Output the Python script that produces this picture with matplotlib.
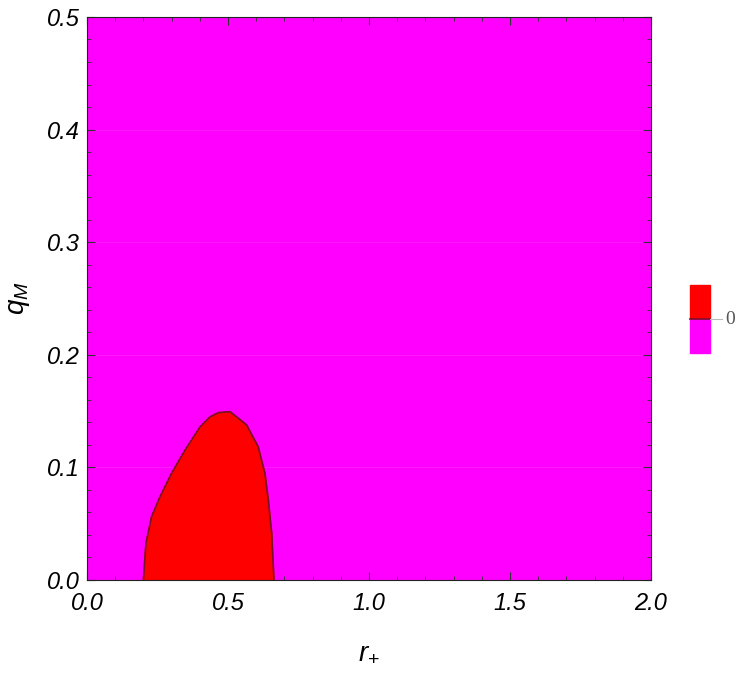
import matplotlib
matplotlib.use("Agg")
import matplotlib.pyplot as plt
from matplotlib.patches import Rectangle
from matplotlib.ticker import MultipleLocator

# boundary of the region where the function is > 0 (red)
r_boundary = [0.200, 0.209, 0.229, 0.259, 0.300, 0.348, 0.401, 0.436, 0.466,
              0.507, 0.537, 0.566, 0.607, 0.631, 0.643, 0.655, 0.663]
q_boundary = [0.0, 0.0326, 0.0562, 0.074, 0.0948, 0.1155, 0.136, 0.1448, 0.1486,
              0.1495, 0.1436, 0.1377, 0.1184, 0.0948, 0.071, 0.0415, 0.0]

x_ticks = [0.0, 0.5, 1.0, 1.5, 2.0]
y_ticks = [0.0, 0.1, 0.2, 0.3, 0.4, 0.5]
legend_label = "0"

plt.rcParams['font.family'] = ['Liberation Sans', 'DejaVu Sans']
plt.rcParams['mathtext.fontset'] = 'custom'
plt.rcParams['mathtext.it'] = 'Liberation Sans:italic'
plt.rcParams['mathtext.rm'] = 'Liberation Sans'

fig = plt.figure(figsize=(7.5, 6.73), dpi=100)
ax = fig.add_axes([0.116, 0.1382, 0.752, 0.8366])
ax.set_xlim(0, 2)
ax.set_ylim(0, 0.5)
ax.set_facecolor('#ff00ff')

# faint mesh lines (Mathematica artifact look)
for yv in [0.1, 0.2, 0.3, 0.4]:
    ax.axhline(yv, color='white', alpha=0.12, lw=0.6, zorder=1)

ax.fill(r_boundary, q_boundary, color='#ff0000', zorder=2)
ax.plot(r_boundary, q_boundary, color='#7a0f2a', lw=1.2, zorder=3)

ax.set_xticks(x_ticks)
ax.set_yticks(y_ticks)
ax.set_xticklabels([f"{v:.1f}" for v in x_ticks], fontsize=17, style='italic')
ax.set_yticklabels([f"{v:.1f}" for v in y_ticks], fontsize=17, style='italic')
ax.xaxis.set_minor_locator(MultipleLocator(0.1))
ax.yaxis.set_minor_locator(MultipleLocator(0.02))
ax.tick_params(which='both', direction='in', top=True, right=True, color='#333333')
ax.tick_params(axis='x', which='major', length=6, width=0.8, pad=9)
ax.tick_params(axis='y', which='major', length=6, width=0.8, pad=5)
ax.tick_params(which='minor', length=3, width=0.6)
for s in ax.spines.values():
    s.set_color('#222222')
    s.set_linewidth(0.8)

ax.set_xlabel(r"$r_{+}$", fontsize=20)
ax.set_ylabel(r"$q_{M}$", fontsize=20)
ax.xaxis.set_label_coords(0.5, -0.105)
ax.yaxis.set_label_coords(-0.098, 0.5)

# legend
lax = fig.add_axes([0, 0, 1, 1], facecolor='none')
lax.set_xlim(0, 750)
lax.set_ylim(673, 0)
lax.axis('off')
lax.add_patch(Rectangle((690, 285), 20, 34, color='#ff0000'))
lax.add_patch(Rectangle((690, 319), 20, 34, color='#ff00ff'))
lax.plot([690, 710], [319, 319], color='#7a0f2a', lw=1.2)
lax.plot([710, 722], [319, 319], color='#bbbbbb', lw=0.8)
lax.text(725, 319, legend_label, fontsize=14, color='#555555', va='center',
         ha='left', family='Liberation Serif')

fig.savefig("out.png", dpi=100)
